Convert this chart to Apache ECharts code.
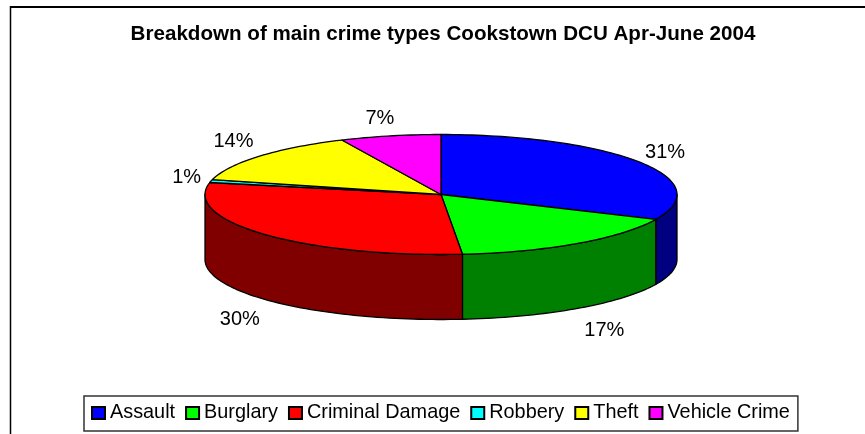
<!DOCTYPE html>
<html><head><meta charset="utf-8">
<style>html,body{margin:0;padding:0;background:#fff}#c{width:865px;height:434px}</style>
<script src="https://cdn.jsdelivr.net/npm/echarts@6/dist/echarts.min.js"></script>
</head><body><div id="c"></div>
<script>
const titleText = 'Breakdown of main crime types Cookstown DCU Apr-June 2004';
const categories = ['Assault','Burglary','Criminal Damage','Robbery','Theft','Vehicle Crime'];
const values = [31.8,16.75,29.65,0.8,14.1,6.9];
const labels = ['31%','17%','30%','1%','14%','7%'];
const topColors = ['#0000ff','#00ff00','#ff0000','#00ffff','#ffff00','#ff00ff'];
const sideColors = ['#000080','#008000','#800000','#008080','#808000','#800080'];

const FONT = '"Liberation Sans", Arial, sans-serif';
const CX=441, CY=194.5, RX=236, RY=60, DEPTH=65, LRX=270, LRY=82, LDY=3;
const LABEL_NUDGE=[[-3,-1],[7,1],[0,2],[1,-2],[0,-4],[-3,1]];
const total = values.reduce((a,b)=>a+b,0);
const rad = d => d*Math.PI/180;
const px = t => CX+RX*Math.sin(rad(t));
const py = t => CY-RY*Math.cos(rad(t));
function arc(a,b,dy){const n=Math.max(2,Math.ceil((b-a)/1.5)),o=[];
  for(let i=0;i<=n;i++){const t=a+(b-a)*i/n;o.push([px(t),py(t)+dy]);}return o;}

let running=0;
const series = categories.map((name,i)=>{
  const start=running/total*360; running+=values[i]; const end=running/total*360;
  return {
    type:'custom', name, coordinateSystem:'none', silent:true,
    itemStyle:{color:topColors[i],borderColor:'#000',borderWidth:1},
    data:[[values[i]]],
    renderItem(){
      const kids=[];
      const a=Math.max(start,90), b=Math.min(end,270);
      if(b>a){
        kids.push({type:'polygon',shape:{points:arc(a,b,0).concat(arc(a,b,DEPTH).reverse())},
          style:{fill:sideColors[i],stroke:'#000',lineWidth:1.3,lineJoin:'round'}});
      }
      kids.push({type:'polygon',shape:{points:[[CX,CY]].concat(arc(start,end,0))},
        style:{fill:topColors[i],stroke:'#000',lineWidth:1.3,lineJoin:'round'}});
      const m=(start+end)/2, c=Math.cos(rad(m));
      const lrx=Math.abs(c)<0.25?LRX-8:LRX;
      kids.push({type:'text',style:{text:labels[i],
        x:CX+lrx*Math.sin(rad(m))+LABEL_NUDGE[i][0], y:CY+LDY-LRY*c+(c<0?DEPTH:0)+LABEL_NUDGE[i][1],
        align:'center',verticalAlign:'middle',font:'20px '+FONT,fill:'#000'}});
      return {type:'group',children:kids};
    }
  };
});

const chart = echarts.init(document.getElementById('c'),null,{renderer:'canvas'});
chart.setOption({
  animation:false, backgroundColor:'#fff',
  title:{text:titleText,left:438,top:19,textAlign:'center',
    textStyle:{fontFamily:FONT,fontWeight:'bold',fontSize:20.6,color:'#000'}},
  legend:{data:categories,left:84,top:396,orient:'horizontal',
    icon:'rect',itemWidth:13,itemHeight:12,itemGap:10,padding:[7,8,8,7],
    backgroundColor:'#fff',borderColor:'#333',borderWidth:1.5,
    selectedMode:false,
    textStyle:{fontFamily:FONT,fontSize:19.85,color:'#000'}},
  graphic:[
    {type:'line',shape:{x1:10.5,y1:7,x2:865,y2:7},style:{stroke:'#000',lineWidth:2}},
    {type:'line',shape:{x1:10.5,y1:6,x2:10.5,y2:434},style:{stroke:'#000',lineWidth:1.5}}
  ],
  series
});
</script></body></html>
